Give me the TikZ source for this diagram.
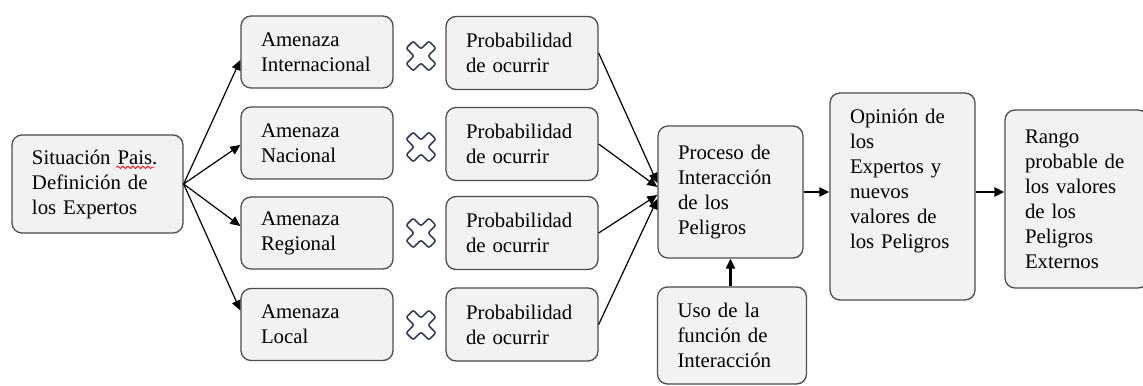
\documentclass[tikz,border=0pt]{standalone}
\usepackage{fontspec}
\setmainfont{Liberation Serif}
\usetikzlibrary{arrows.meta,decorations.pathmorphing}
\definecolor{fondo}{HTML}{F2F2F2}
\definecolor{borde}{HTML}{4D4D4D}
\definecolor{azulx}{HTML}{34405A}

\begin{document}
\begin{tikzpicture}[x=0.5pt, y=0.5pt, >={Triangle[length=5pt,width=4.5pt]},
  caja/.style={draw=borde, line width=0.65pt, fill=fondo, rounded corners=5pt, align=left, inner xsep=10pt, font=\fontsize{10.4}{12.5}\selectfont},
  flecha/.style={->, line width=0.6pt},
  gruesa/.style={->, line width=1.2pt},
  cruz/.style={draw=azulx, line width=0.8pt, rounded corners=1pt}]
\useasboundingbox (0,0) rectangle (1143,385);
\node[caja, text width=65.5pt, minimum height=49pt] (S) at (97.5,201) {Situación Pais.\\Definición de\\los Expertos};
\draw[red, line width=0.4pt, decorate, decoration={snake, amplitude=0.6pt, segment length=2.5pt}] ([xshift=52.5pt, yshift=-16.5pt]S.north west) -- ([xshift=71.5pt, yshift=-16.5pt]S.north west);
\node[caja, text width=56pt, minimum height=36pt] (A1) at (317,333) {Amenaza\\Internacional};
\node[caja, text width=56pt, minimum height=36pt] (A2) at (317,242) {Amenaza\\Nacional};
\node[caja, text width=56pt, minimum height=36pt] (A3) at (317,152) {Amenaza\\Regional};
\node[caja, text width=56pt, minimum height=36pt] (A4) at (317,60.5) {Amenaza\\Local};
\node[caja, text width=56pt, minimum height=36.5pt] (P1) at (522,332) {Probabilidad\\de ocurrir};
\node[caja, text width=56pt, minimum height=36.5pt] (P2) at (522,241) {Probabilidad\\de ocurrir};
\node[caja, text width=56pt, minimum height=36.5pt] (P3) at (522,152) {Probabilidad\\de ocurrir};
\node[caja, text width=56pt, minimum height=36.5pt] (P4) at (522,60.5) {Probabilidad\\de ocurrir};
\node[caja, text width=52.5pt, minimum height=66pt] (I) at (730.5,193) {Proceso de\\Interacción\\de los\\Peligros};
\node[caja, text width=54.5pt, minimum height=48.5pt] (U) at (732,49.5) {Uso de la\\función de\\Interacción};
\node[caja, text width=52.5pt, minimum height=103.5pt, text depth=80pt] (O) at (902.5,188.5) {Opinión de\\los\\Expertos y\\nuevos\\valores de\\los Peligros};
\node[caja, text width=51.5pt, minimum height=89pt] (R) at (1076.5,186) {Rango\\probable de\\los valores\\de los\\Peligros\\Externos};
\foreach \y in {329,238,152,60}
  \draw[cruz, shift={(421,\y)}, rotate=45] (5,16) -- (5,5) -- (16,5) -- (16,-5) -- (5,-5) -- (5,-16) -- (-5,-16) -- (-5,-5) -- (-16,-5) -- (-16,5) -- (-5,5) -- (-5,16) -- cycle;
\path[flecha] (S.east) edge ([yshift=-4pt]A1.west);
\path[flecha] (S.east) edge ([yshift=-1pt]A2.west);
\path[flecha] (S.east) edge ([yshift=3.5pt]A3.west);
\path[flecha] (S.east) edge ([yshift=7pt]A4.west);
\path[flecha] (P1.east) edge ([yshift=4.5pt]I.west);
\path[flecha] (P2.east) edge ([yshift=2.5pt]I.west);
\path[flecha] (P3.east) edge ([yshift=-1.5pt]I.west);
\path[flecha] (P4.east) edge ([yshift=-3.5pt]I.west);
\draw[gruesa] (I.east) -- (I.east -| O.west);
\draw[gruesa] (O.east |- I.east) -- (R.west |- I.east);
\draw[gruesa] (I.south |- U.north) -- (I.south);
\end{tikzpicture}
\end{document}
